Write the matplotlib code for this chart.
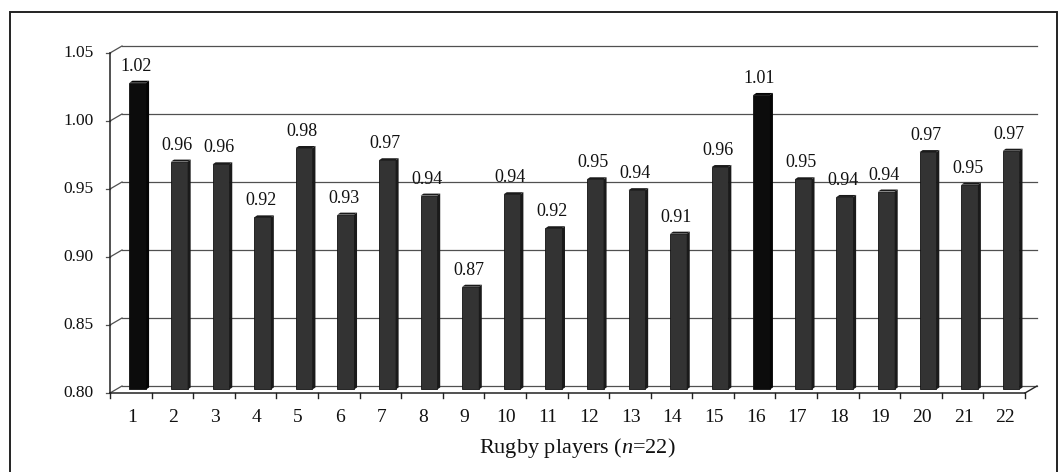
import matplotlib
matplotlib.use("Agg")
import matplotlib.pyplot as plt
from matplotlib.patches import Rectangle, Polygon

# data
players = list(range(1, 23))
ratios = [1.023, 0.965, 0.963, 0.924, 0.975, 0.926, 0.966, 0.940, 0.873, 0.941, 0.916,
          0.952, 0.944, 0.912, 0.961, 1.014, 0.952, 0.939, 0.943, 0.972, 0.948, 0.973]
value_labels = ["1.02", "0.96", "0.96", "0.92", "0.98", "0.93", "0.97", "0.94", "0.87",
                "0.94", "0.92", "0.95", "0.94", "0.91", "0.96", "1.01", "0.95", "0.94",
                "0.94", "0.97", "0.95", "0.97"]
y_ticks = [0.80, 0.85, 0.90, 0.95, 1.00, 1.05]
x_title = r"Rugby players ($\mathit{n}$=22)"

plt.rcParams["font.family"] = ["Liberation Serif", "DejaVu Serif"]
plt.rcParams["mathtext.fontset"] = "custom"
plt.rcParams["mathtext.rm"] = "Liberation Serif"
plt.rcParams["mathtext.it"] = "Liberation Serif:italic"

W, H = 1063, 472
fig = plt.figure(figsize=(W / 100, H / 100), dpi=100)

# back wall of the pseudo-3D plot area (pixels)
left, right, top, bottom = 122, 1037, 46, 386
ax = fig.add_axes([left / W, 1 - bottom / H, (right - left) / W, (bottom - top) / H])
ax.set_xlim(0.5, 22.5)
ax.set_ylim(0.80, 1.05)
ax.axis("off")

px_x = 22 / (right - left)
px_y = 0.25 / (bottom - top)
DX, DY = 12 * px_x, 7 * px_y  # depth offset of the front edge

grid_kw = dict(color="#505050", lw=0.9, clip_on=False)

# gridlines on the back wall and connectors to the front axis
for v in y_ticks:
    ax.plot([0.5, 22.5], [v, v], **grid_kw)
    ax.plot([0.5 - DX, 0.5], [v - DY, v], **grid_kw)
    ax.plot([0.5 - DX - 4 * px_x, 0.5 - DX], [v - DY, v - DY], **grid_kw)
    ax.text(0.5 - DX - 16 * px_x, v - DY, f"{v:.2f}", ha="right", va="center",
            fontsize=12.5, color="#111")

# front y axis and floor
ax.plot([0.5 - DX, 0.5 - DX], [0.80 - DY, 1.05 - DY], color="#222", lw=1.1, clip_on=False)
ax.plot([0.5 - DX, 22.5 - DX], [0.80 - DY, 0.80 - DY], color="#222", lw=1.1, clip_on=False)
ax.plot([22.5 - DX, 22.5], [0.80 - DY, 0.80], color="#222", lw=1.0, clip_on=False)

for k in range(23):
    xb = 0.5 - DX + k
    ax.plot([xb, xb], [0.80 - DY, 0.80 - DY - 5 * px_y], color="#222", lw=1.0, clip_on=False)

for p in players:
    ax.text(p - DX + 1 * px_x, 0.80 - DY - 24 * px_y, str(p), ha="center", va="center",
            fontsize=14, color="#111")

# bars with a thin side and top face
bw = 0.40
base = 0.80 - DY / 2
sx, sy = 3 * px_x, 2 * px_y
for p, v, lab in zip(players, ratios, value_labels):
    xc = p - 0.42 * DX
    face = "#0c0c0c" if v >= 1.0 else "#333333"
    side = "#040404" if v >= 1.0 else "#1a1a1a"
    ax.bar(xc, v - base, bottom=base, width=bw, color=face, edgecolor="#111",
           lw=0.6, clip_on=False, zorder=3)
    x1 = xc + bw / 2
    ax.add_patch(Polygon([(x1, base), (x1 + sx, base + sy), (x1 + sx, v + sy), (x1, v)],
                         closed=True, fc=side, ec="none", clip_on=False, zorder=3))
    x0 = xc - bw / 2
    ax.add_patch(Polygon([(x0, v), (x0 + sx, v + sy), (x1 + sx, v + sy), (x1, v)],
                         closed=True, fc=side, ec="none", clip_on=False, zorder=3))
    ax.annotate(lab, (xc, v), xytext=(-2, 8), textcoords="offset pixels",
                ha="center", va="bottom", fontsize=13, color="#111")

fig.text(577 / W, 1 - 448 / H, x_title, ha="center", va="center", fontsize=16, color="#111")

# outer frame of the figure
fig.patches.append(Rectangle((10 / W, -0.05), 1047 / W, (H - 12) / H + 0.05,
                             transform=fig.transFigure, fill=False, ec="#222", lw=1.4))

fig.savefig("out.png", dpi=100)
